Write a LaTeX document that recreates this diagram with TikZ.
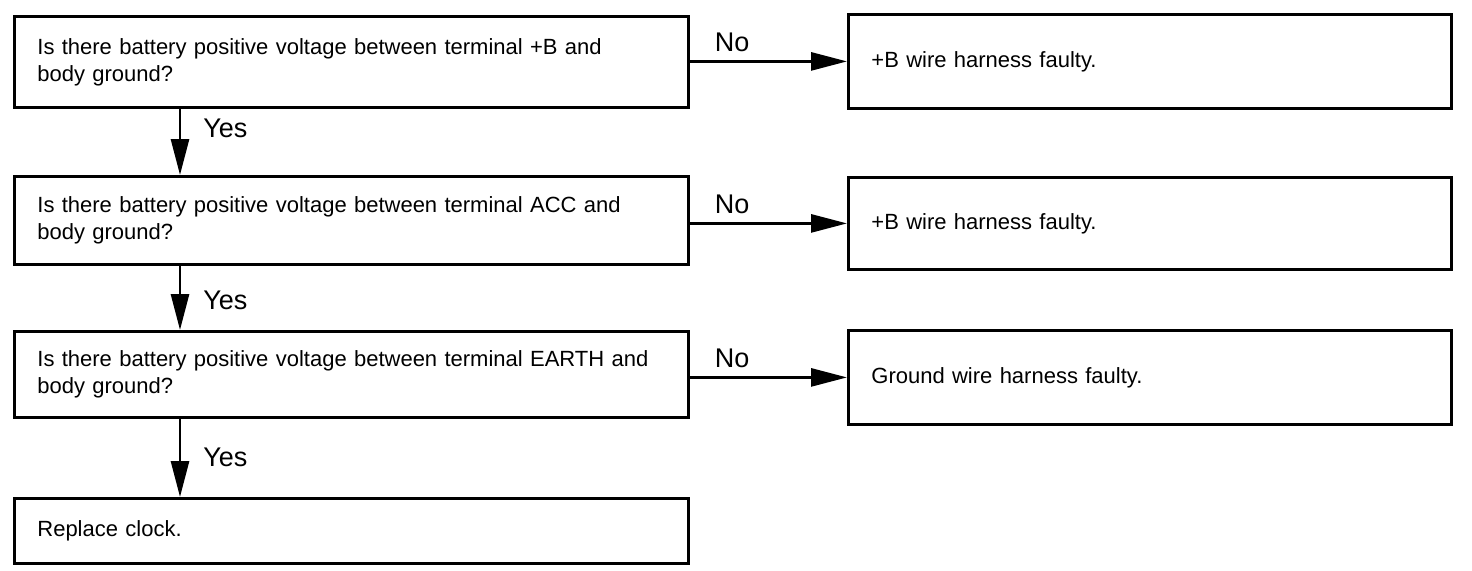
\documentclass[tikz,border=0pt]{standalone}
\usepackage{fontspec}
\setmainfont{Liberation Sans}
\usetikzlibrary{positioning}
\usetikzlibrary{arrows.meta}
\tikzset{
  qbox/.style={draw, line width=1.4pt, anchor=north west, minimum width=337pt,
    text width=314pt, align=left, inner xsep=11.5pt,
    font=\fontsize{11}{13.5}\selectfont},
  rbox/.style={qbox, minimum width=301.5pt, text width=278.5pt},
  arr/.style={line width=1.4pt, -{Triangle[length=18pt,width=9pt]}},
  lbl/.style={font=\fontsize{13.5}{15}\selectfont, inner sep=1pt}
}

\begin{document}
\begin{tikzpicture}[x=0.5pt,y=-0.5pt]
      \fill[white] (0,0) rectangle (1472,570);

      % questions
      \node[qbox, minimum height=45.5pt] (q1) at (13,15)
        {Is there battery positive voltage between terminal +B and\\ body ground?};
      \node[qbox, minimum height=44pt] (q2) at (13,175)
        {Is there battery positive voltage between terminal ACC and\\ body ground?};
      \node[qbox, minimum height=43pt] (q3) at (13,330)
        {Is there battery positive voltage between terminal EARTH and\\ body ground?};
      \node[qbox, minimum height=32.5pt] (q4) at (13,497) {Replace clock.};

      % results
      \node[rbox, minimum height=47pt] (r1) at (847,13) {+B wire harness faulty.};
      \node[rbox, minimum height=46pt] (r2) at (847,176) {+B wire harness faulty.};
      \node[rbox, minimum height=47pt] (r3) at (847,329) {Ground wire harness faulty.};

      \coordinate (yescol) at (180,0);

      \draw[arr] (q1.south -| yescol) -- node[lbl, right=10pt, pos=.29] {Yes} (q2.north -| yescol);
      \draw[arr] (q2.south -| yescol) -- node[lbl, right=10pt, pos=.54] {Yes} (q3.north -| yescol);
      \draw[arr] (q3.south -| yescol) -- node[lbl, right=10pt, pos=.49] {Yes} (q4.north -| yescol);

      \draw[arr] (q1.east |- r1.west) -- node[lbl, above=3pt, pos=.27] {No} (r1.west);
      \draw[arr] (q2.east |- r2.west) -- node[lbl, above=3pt, pos=.27] {No} (r2.west);
      \draw[arr] (q3.east |- r3.west) -- node[lbl, above=3pt, pos=.27] {No} (r3.west);
\end{tikzpicture}
\end{document}
